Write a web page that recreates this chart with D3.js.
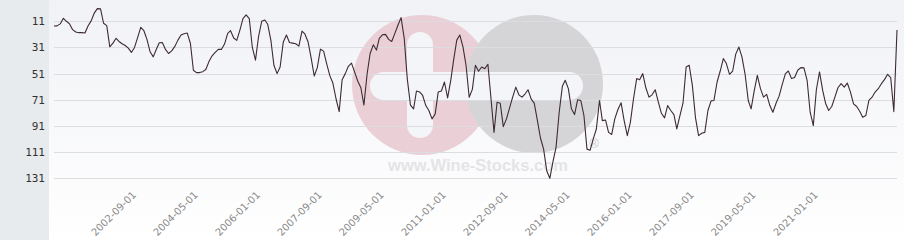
<!DOCTYPE html>
<html>
<head>
<meta charset="utf-8">
<script src="https://cdn.jsdelivr.net/npm/d3@7"></script>
<style>
  body { margin: 0; background: #fff; }
  svg { display: block; }
</style>
</head>
<body>
<svg id="chart" width="904" height="240"></svg>
<script>
const width = 904,
    height = 240

// first month of the series, one rank per month
const startMonth = '2000-06-01'

const ranks = [
  14.6, 14.5, 13, 8.7, 11, 13, 17.4, 19.2, 19.7, 19.7,
  20, 14.6, 10.7, 4.8, 1.3, 1.5, 12.5, 14.3, 30.5, 27.7,
  24, 26.4, 28.2, 29.5, 31.5, 34.8, 31, 23.3, 15.6, 18.2,
  24.8, 34.3, 38.2, 32.8, 27.4, 27.2, 32.5, 35.6, 33.6, 30.2,
  25.4, 21.5, 20.5, 20, 28, 48.4, 50.2, 50.2, 49.5, 47.9,
  41.8, 37.4, 34.8, 32.5, 32.5, 28.4, 20.2, 18.2, 23.8, 25.6,
  17.7, 9, 6.1, 9, 31, 40.7, 22.8, 11, 10, 13.3,
  25.4, 44.6, 51, 45.9, 26.9, 21.5, 27.2, 27.7, 28.2, 30,
  18.5, 20.7, 26.6, 38.7, 52.8, 46.4, 32.3, 33.8, 43.3, 52.5,
  58.2, 70.2, 80, 55.6, 51, 45.4, 43, 49.7, 56.6, 61.8,
  75, 51.5, 35.6, 29, 33, 24, 21.3, 21, 24.8, 26.4,
  20.2, 13.8, 8.2, 24, 55, 75, 78, 64.3, 65, 67.7,
  75.4, 79.2, 85.6, 81.8, 65, 64.3, 57.4, 69.5, 56.1, 40.7,
  25.4, 21.5, 30.5, 44.6, 69, 63, 44.6, 49.2, 45.9, 47.2,
  43.8, 69, 95.9, 72.8, 73.6, 91.5, 85.6, 77.2, 69, 61.3,
  67.2, 69, 66.4, 63.3, 70.5, 73.6, 86.9, 100.2, 108.7, 125.4,
  131, 118.2, 107.4, 80.5, 60.7, 56.1, 62.5, 77.9, 82.3, 71,
  71.5, 83, 108.7, 109.5, 101, 93.3, 71.5, 86.9, 86.4, 95.9,
  97.5, 85.6, 78.4, 73.3, 86.9, 98.4, 88.2, 70.2, 54.8, 55.6,
  51, 61.8, 69, 67.2, 63.3, 72.8, 81.3, 84.8, 75.4, 79.2,
  82.3, 93.3, 83, 73.6, 45.9, 44.6, 60, 84.8, 98.4, 96.6,
  95.9, 79.2, 71.8, 71.5, 57.4, 49.2, 39.5, 43.3, 51.5, 49,
  36.1, 30.7, 38.2, 51.5, 71.5, 77.9, 64, 52.3, 62.5, 69,
  66.9, 75.4, 80.5, 73.6, 68.2, 59.2, 51, 49, 54.8, 54,
  48.4, 46.4, 46.6, 56.1, 80.5, 90.7, 63.3, 49.7, 63.8, 73.6,
  79.2, 76.1, 69, 61.8, 58.7, 61.3, 58.2, 65.1, 74.1, 76.1,
  80, 84.3, 83, 71.5, 69, 65.1, 62.5, 58.7, 55.6, 51.5,
  54, 80, 17.7
]

const yTicks = [11, 31, 51, 71, 91, 111, 131]

const xTicks = ['2002-09-01', '2004-05-01', '2006-01-01', '2007-09-01',
  '2009-05-01', '2011-01-01', '2012-09-01', '2014-05-01',
  '2016-01-01', '2017-09-01', '2019-05-01', '2021-01-01']

const parseDate = d3.timeParse('%Y-%m-%d')
const start = parseDate(startMonth)
const data = ranks.map((r, i) => ({ date: d3.timeMonth.offset(start, i), rank: r }))

const svg = d3.select('#chart')

// background gradient of the plot panel
const defs = svg.append('defs')
const grad = defs.append('linearGradient')
    .attr('id', 'bg')
    .attr('x1', 0).attr('y1', 0).attr('x2', 0).attr('y2', 1)
grad.append('stop').attr('offset', '0%').attr('stop-color', '#f1f2f6')
grad.append('stop').attr('offset', '100%').attr('stop-color', '#ffffff')

// left gray panel + plot panel
svg.append('rect')
    .attr('x', 0).attr('y', 0)
    .attr('width', 49).attr('height', height)
    .attr('fill', '#e8ebee')
svg.append('rect')
    .attr('x', 49).attr('y', 0)
    .attr('width', width - 49).attr('height', height)
    .attr('fill', 'url(#bg)')

const x = d3.scaleTime()
    .domain([start, data[data.length - 1].date])
    .range([54, 897])

const y = d3.scaleLinear()
    .domain([1, 141])
    .range([8.2, 191.4])

// watermark
const wm = svg.append('g').attr('class', 'watermark')
wm.append('circle').attr('cx', 422).attr('cy', 85).attr('r', 70).attr('fill', '#ead0d6')
wm.append('circle').attr('cx', 534).attr('cy', 84).attr('r', 69).attr('fill', '#d5d5d8')
wm.append('rect')
    .attr('x', 370).attr('y', 72).attr('width', 213).attr('height', 28)
    .attr('rx', 14).attr('fill', '#f4f5f8')
wm.append('rect')
    .attr('x', 407).attr('y', 32).attr('width', 26).attr('height', 106)
    .attr('rx', 13).attr('fill', '#f4f5f8')
wm.append('text')
    .attr('x', 478).attr('y', 171)
    .attr('text-anchor', 'middle')
    .style('font-family', '"Liberation Sans", Arial, sans-serif')
    .style('font-weight', 'bold')
    .style('font-size', '16.5px')
    .attr('fill', '#e4e4e6')
    .text('www.Wine-Stocks.com')
wm.append('text')
    .attr('x', 594).attr('y', 148)
    .attr('text-anchor', 'middle')
    .style('font-family', '"Liberation Sans", Arial, sans-serif')
    .style('font-size', '13px')
    .attr('fill', '#c8c8ca')
    .text('®')

// horizontal grid
svg.append('g')
    .selectAll('line')
    .data(yTicks)
    .join('line')
      .attr('x1', 54).attr('x2', 897)
      .attr('y1', d => Math.round(y(d)) + 0.5)
      .attr('y2', d => Math.round(y(d)) + 0.5)
      .attr('stroke', '#dcdde1')
      .attr('stroke-width', 1)

// y labels
const yAxis = svg.append('g')
    .attr('transform', 'translate(45,0)')
    .call(d3.axisLeft(y).tickValues(yTicks).tickSize(0).tickPadding(0))
yAxis.select('.domain').remove()
yAxis.selectAll('text')
    .style('font-family', '"DejaVu Sans Mono", monospace')
    .style('font-size', '11px')
    .attr('fill', '#333')

// x labels, rotated
const xAxis = svg.append('g')
    .attr('transform', 'translate(0,190)')
    .call(d3.axisBottom(x).tickValues(xTicks.map(parseDate)).tickSize(0)
        .tickFormat(d3.timeFormat('%Y-%m-%d')))
xAxis.select('.domain').remove()
xAxis.selectAll('text')
    .attr('text-anchor', 'end')
    .attr('dy', '0.35em')
    .attr('y', 0)
    .attr('transform', 'translate(-4,3) rotate(-45)')
    .style('font-family', '"DejaVu Sans", sans-serif')
    .style('font-size', '10px')
    .attr('fill', '#8a8a8a')

// the rank line
svg.append('path')
    .datum(data)
    .attr('fill', 'none')
    .attr('stroke', '#3d2a33')
    .attr('stroke-width', 1.1)
    .attr('stroke-linejoin', 'round')
    .attr('d', d3.line()
        .x(d => x(d.date))
        .y(d => y(d.rank)))
</script>
</body>
</html>
